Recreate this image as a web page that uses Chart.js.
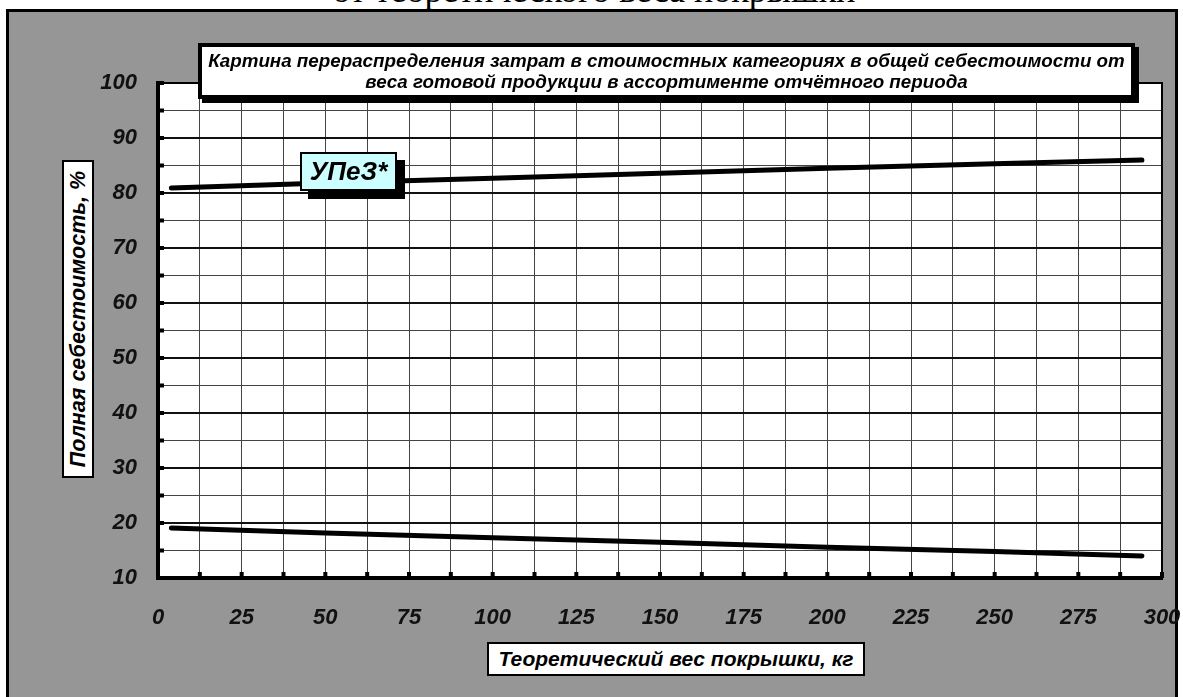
<!DOCTYPE html>
<html>
<head>
<meta charset="utf-8">
<script src="https://cdn.jsdelivr.net/npm/chart.js@4.4.1/dist/chart.umd.min.js"></script>
<style>
  html, body { margin: 0; padding: 0; background: #fff; }
  #wrap { position: relative; width: 1183px; height: 697px; overflow: hidden; background: #fff; }
  #topstrip { position: absolute; left: 0; top: 0; width: 1183px; height: 10px; overflow: hidden; }
  #toptext { position: absolute; left: 0; width: 1188px; top: -28px; text-align: center;
    font-family: "Liberation Serif", "DejaVu Serif", serif; font-size: 36px; line-height: 36px; color: #000; white-space: nowrap; }
  #panel { position: absolute; left: 6px; top: 9px; width: 1172px; height: 720px; box-sizing: border-box;
    border: 3px solid #000; background: #969696; }
  #cv { position: absolute; left: 0; top: 0; }
  .box { position: absolute; box-sizing: border-box; background: #fff; color: #000;
    font-family: "Liberation Sans", Arial, sans-serif; font-weight: bold; font-style: italic; text-align: center; white-space: nowrap; }
  #title { left: 198px; top: 43px; width: 937px; height: 56px; border: 4px solid #000; box-shadow: 4px 4px 0 #000;
    font-size: 18.8px; line-height: 21px; padding-top: 3px; }
  #ytitle { left: 62px; top: 160px; width: 32px; height: 318px; border: 2px solid #000; }
  #ytitle span { position: absolute; left: 50%; top: 50%; transform: translate(-50%, -50%) rotate(-90deg);
    font-size: 21.5px; line-height: 24px; }
  #xtitle { left: 487px; top: 642px; width: 378px; height: 34px; border: 2px solid #000; font-size: 21px; line-height: 30px; }
  #lab { left: 300px; top: 152px; width: 97px; height: 39px; border: 2px solid #000; background: #ccffff;
    box-shadow: 8px 8px 0 #000; font-size: 26px; line-height: 35px; }
</style>
</head>
<body>
<div id="wrap">
  <div id="topstrip"><div id="toptext">от теоретического веса покрышки</div></div>
  <div id="panel"></div>
  <canvas id="cv" width="1183" height="697"></canvas>
  <div id="title" class="box">Картина перераспределения затрат в стоимостных категориях в общей себестоимости от<br>веса готовой продукции в ассортименте отчётного периода</div>
  <div id="ytitle" class="box"><span>Полная себестоимость, %</span></div>
  <div id="xtitle" class="box">Теоретический вес покрышки, кг</div>
  <div id="lab" class="box">УПеЗ*</div>
</div>
<script>
// ---- data ----
const weights = [4, 50, 100, 150, 200, 250, 294];
const upeValues = [80.9, 81.8, 82.7, 83.6, 84.5, 85.3, 86.0];
const otherValues = [19.1, 18.2, 17.3, 16.5, 15.6, 14.8, 14.0];
const seriesNames = ['УПеЗ*', 'Прочие'];
const xMin = 0, xMax = 300, xStep = 12.5, xLabelStep = 25;
const yMin = 10, yMax = 100, yStep = 5, yLabelStep = 10;

const toPts = (xs, ys) => xs.map((x, i) => ({ x: x, y: ys[i] }));
const tickFont = { family: '"Liberation Sans", Arial, sans-serif', size: 22, weight: 'bold', style: 'italic' };

const plotBg = {
  id: 'plotBg',
  beforeDraw(chart) {
    const { ctx, chartArea: a } = chart;
    ctx.save();
    ctx.fillStyle = '#fff';
    ctx.fillRect(a.left, a.top, a.right - a.left, a.bottom - a.top);
    ctx.restore();
  },
  afterDatasetsDraw(chart) {
    const { ctx, chartArea: a, scales } = chart;
    ctx.save();
    ctx.strokeStyle = '#000';
    ctx.lineWidth = 2;
    ctx.beginPath();
    ctx.moveTo(a.left, a.top); ctx.lineTo(a.right, a.top); ctx.lineTo(a.right, a.bottom);
    ctx.stroke();
    ctx.fillStyle = '#000';
    for (let v = xMin + xStep; v <= xMax; v += xStep) {
      const px = scales.x.getPixelForValue(v);
      ctx.fillRect(px - 2, a.bottom - 6, 4, 6);
    }
    for (let v = yMin + yStep; v <= yMax; v += yStep) {
      const py = scales.y.getPixelForValue(v);
      ctx.fillRect(a.left, py - 2, 6, 4);
    }
    ctx.restore();
  }
};

new Chart(document.getElementById('cv'), {
  type: 'line',
  data: {
    datasets: [
      { label: seriesNames[0], data: toPts(weights, upeValues), borderColor: '#000', borderWidth: 5,
        pointRadius: 0, borderCapStyle: 'round', tension: 0, fill: false },
      { label: seriesNames[1], data: toPts(weights, otherValues), borderColor: '#000', borderWidth: 5,
        pointRadius: 0, borderCapStyle: 'round', tension: 0, fill: false }
    ]
  },
  options: {
    responsive: false,
    animation: false,
    devicePixelRatio: 1,
    layout: { padding: { top: 83, right: 0, left: 0, bottom: 0 } },
    plugins: { legend: { display: false }, tooltip: { enabled: false } },
    scales: {
      x: {
        type: 'linear', min: xMin, max: xMax,
        afterFit: s => { s.height = 119; s.paddingRight = 21; s.paddingLeft = 0; },
        afterBuildTicks: s => { const t = []; for (let v = xMin; v <= xMax; v += xStep) t.push({ value: v }); s.ticks = t; },
        ticks: { autoSkip: false, maxRotation: 0, padding: 27, color: '#111', font: tickFont,
          callback: v => (v % xLabelStep === 0 ? String(v) : '') },
        grid: { drawTicks: false, color: '#444', lineWidth: c => (c.tick && c.tick.value === xMax ? 2 : 1) },
        border: { display: true, width: 4, color: '#000' }
      },
      y: {
        min: yMin, max: yMax,
        afterFit: s => { s.width = 158; s.paddingTop = 0; s.paddingBottom = 0; },
        afterBuildTicks: s => { const t = []; for (let v = yMin; v <= yMax; v += yStep) t.push({ value: v }); s.ticks = t; },
        ticks: { autoSkip: false, padding: 21, color: '#111', font: tickFont,
          callback: v => (v % yLabelStep === 0 ? String(v) : '') },
        grid: { drawTicks: false,
          color: c => (c.tick && c.tick.value % yLabelStep === 0 ? '#111' : '#444'),
          lineWidth: c => (c.tick && c.tick.value % yLabelStep === 0 ? 2 : 1) },
        border: { display: true, width: 4, color: '#000' }
      }
    }
  },
  plugins: [plotBg]
});
</script>
</body>
</html>
